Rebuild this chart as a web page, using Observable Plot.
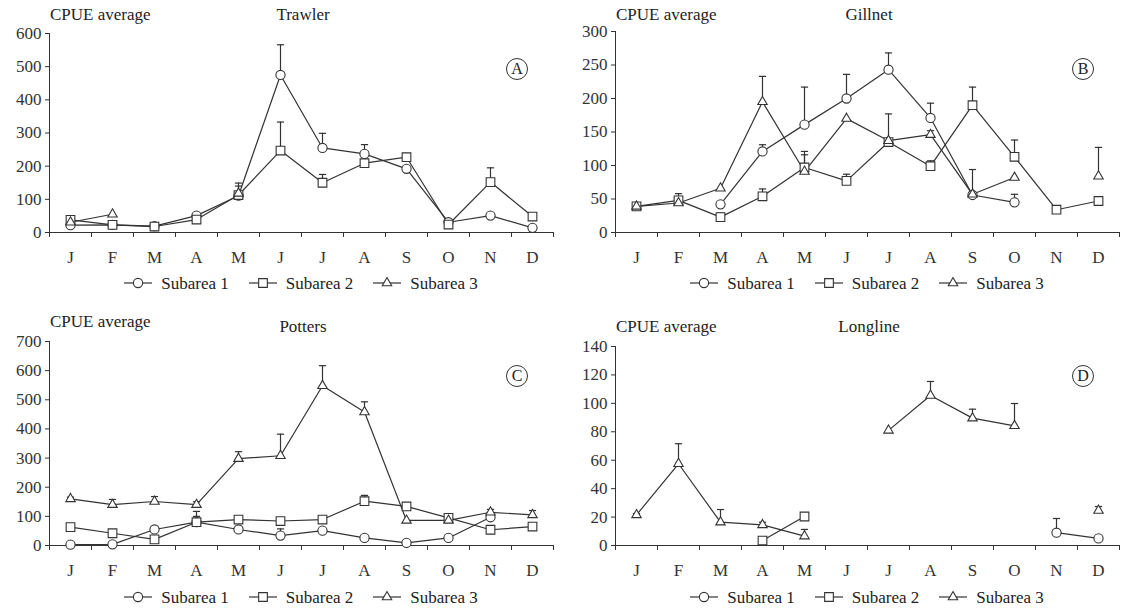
<!DOCTYPE html>
<html><head><meta charset="utf-8">
<script src="https://cdn.jsdelivr.net/npm/d3@7"></script>
<script src="https://cdn.jsdelivr.net/npm/@observablehq/plot@0.6"></script>
<style>
body{margin:0;background:#fff;font-family:"Liberation Serif","Times New Roman",serif;color:#222;}
#wrap{position:relative;width:1126px;height:608px;overflow:hidden;}
.panel{position:absolute;width:563px;height:304px;}
.panel > svg{position:absolute;left:0;top:0;}
.ylab{position:absolute;font-size:17px;white-space:nowrap;line-height:17px;}
.title{position:absolute;font-size:17px;white-space:nowrap;line-height:17px;transform:translateX(-50%);}
.badge{position:absolute;width:20px;height:20px;border:1px solid #333;border-radius:50%;font-size:16px;line-height:20px;text-align:center;transform:translate(-50%,-50%);}
.legend{position:absolute;display:flex;justify-content:center;align-items:center;font-size:17px;line-height:17px;height:18px;}
.item{display:flex;align-items:center;margin:0 10px;white-space:nowrap;}
.item svg{margin-right:9px;}
</style></head><body><div id="wrap"></div>
<script>
// ---------- data ----------
const months = ["J","F","M","A","M","J","J","A","S","O","N","D"];
const seriesNames = ["Subarea 1","Subarea 2","Subarea 3"];
const _ = null;

// Trawler (A)
const trawlerS1 = [22, 23, 19, 51, 111, 475, 255, 237, 192, 31, 51, 14];
const trawlerS2 = [38, 23, 18, 39, 113, 247, 150, 209, 227, 24, 152, 48];
const trawlerS3 = [31, 55, _, _, 118, _, _, _, _, _, _, _];
const trawlerE1 = [_, _, _, _, _, 566, 299, 265, _, _, _, _];
const trawlerE2 = [_, _, _, _, 140, 333, 175, _, _, _, 195, 54];
const trawlerE3 = [_, _, _, _, 149, _, _, _, _, _, _, _];
const trawlerTicks = [0, 100, 200, 300, 400, 500, 600];

// Gillnet (B)
const gillnetS1 = [_, _, 42, 121, 161, 200, 243, 171, 56, 45, _, _];
const gillnetS2 = [39, 48, 23, 54, 97, 77, 135, 99, 190, 113, 34, 47];
const gillnetS3 = [39, 44, 66, 195, 91, 170, 137, 146, 57, 82, _, 84];
const gillnetE1 = [_, _, _, 131, 217, 236, 268, 193, 94, 57, _, _];
const gillnetE2 = [_, 58, 29, 65, 121, 87, 177, 107, 217, 138, _, _];
const gillnetE3 = [_, _, _, 233, 116, _, _, 152, _, _, _, 127];
const gillnetTicks = [0, 50, 100, 150, 200, 250, 300];

// Potters (C)
const pottersS1 = [3, 4, 55, 80, 55, 34, 51, 26, 9, 26, 97, _];
const pottersS2 = [63, 42, 21, 80, 89, 84, 89, 152, 134, 95, 54, 65];
const pottersS3 = [160, 140, 151, 140, 298, 308, 548, 458, 86, 86, 114, 105];
const pottersE1 = [_, _, _, 117, _, 57, _, _, _, _, _, _];
const pottersE2 = [_, _, _, 100, 95, _, 94, 172, _, _, _, _];
const pottersE3 = [166, 158, 168, 150, 322, 382, 617, 493, _, _, 124, 120];
const pottersTicks = [0, 100, 200, 300, 400, 500, 600, 700];

// Longline (D)
const longlineS1 = [_, _, _, _, _, _, _, _, _, _, 9, 5];
const longlineS2 = [_, _, _, 3.5, 20.4, _, _, _, _, _, _, _];
const longlineS3 = [21.5, 57.5, 16.4, 14.5, 6.6, _, 81, 105.5, 89.6, 84.2, _, 24.6];
const longlineE1 = [_, _, _, _, _, _, _, _, _, _, 19, _];
const longlineE2 = [_, _, _, _, _, _, _, _, _, _, _, _];
const longlineE3 = [22.5, 71.6, 25.3, 16.4, 11.3, _, _, 115.4, 95.9, 99.9, _, 27.4];
const longlineTicks = [0, 20, 40, 60, 80, 100, 120, 140];

// ---------- layout ----------
const panels = [
  {name:"Trawler", badge:"A", series:[trawlerS1,trawlerS2,trawlerS3], errs:[trawlerE1,trawlerE2,trawlerE3], ticks:trawlerTicks,
   left:0, top:0, mL:49, mR:10, mT:33, zero:232, labY:15, titY:15, bx:517, by:69, legY:283},
  {name:"Gillnet", badge:"B", series:[gillnetS1,gillnetS2,gillnetS3], errs:[gillnetE1,gillnetE2,gillnetE3], ticks:gillnetTicks,
   left:563, top:0, mL:52, mR:7, mT:31, zero:232, labY:15, titY:15, bx:520, by:69, legY:283},
  {name:"Potters", badge:"C", series:[pottersS1,pottersS2,pottersS3], errs:[pottersE1,pottersE2,pottersE3], ticks:pottersTicks,
   left:0, top:304, mL:49, mR:10, mT:37, zero:241, labY:18, titY:23, bx:517, by:72, legY:293},
  {name:"Longline", badge:"D", series:[longlineS1,longlineS2,longlineS3], errs:[longlineE1,longlineE2,longlineE3], ticks:longlineTicks,
   left:563, top:304, mL:52, mR:7, mT:42, zero:241, labY:23, titY:23, bx:520, by:72, legY:293}
];

const ink = "#333";
const symbols = ["circle","square","triangle"];
const radii = [4.6, 4.9, 3.5];
const d3Symbols = [d3.symbolCircle, d3.symbolSquare, d3.symbolTriangle];
const capSymbol = {draw(ctx){ ctx.moveTo(-3.6,0); ctx.lineTo(3.6,0); }};

function makeRows(series, errs){
  const rows = [];
  series.forEach((vals, si) => vals.forEach((v, i) => rows.push({x: i + 0.5, y: v, err: errs[si][i], s: si})));
  return rows;
}

const wrap = document.getElementById("wrap");
panels.forEach(p => {
  const div = document.createElement("div");
  div.className = "panel";
  div.style.left = p.left + "px";
  div.style.top = p.top + "px";
  wrap.appendChild(div);

  const rows = makeRows(p.series, p.errs);
  const errRows = rows.filter(d => d.err != null && d.y != null);
  const H = p.zero + 36;
  const centers = months.map((m, i) => i + 0.5);

  const svg = Plot.plot({
    width: 563, height: H,
    marginLeft: p.mL, marginRight: p.mR, marginTop: p.mT, marginBottom: H - p.zero,
    style: {fontFamily: '"Liberation Serif","Times New Roman",serif', fontSize: "17px", color: ink, background: "white"},
    x: {domain: [0, 12]},
    y: {domain: [0, p.ticks[p.ticks.length - 1]]},
    marks: [
      Plot.axisY({ticks: p.ticks, tickSize: 4, tickPadding: 4, label: null, fontSize: 17}),
      Plot.axisX({ticks: centers, tickFormat: d => months[Math.floor(d)], tickSize: 0, tickPadding: 18, label: null, fontSize: 17}),
      Plot.axisX({ticks: d3.range(13), tickFormat: () => "", tickSize: 5, label: null}),
      Plot.ruleX([0], {stroke: ink}),
      Plot.ruleY([0], {stroke: ink}),
      Plot.line(rows, {x: "x", y: "y", z: "s", stroke: ink, strokeWidth: 1.2}),
      Plot.ruleX(errRows, {x: "x", y1: "y", y2: "err", stroke: ink, strokeWidth: 1.2}),
      Plot.dot(errRows, {x: "x", y: "err", symbol: capSymbol, r: 3, stroke: ink, fill: "none", strokeWidth: 1.2}),
      ...[0, 1, 2].map(si => Plot.dot(rows.filter(d => d.s === si && d.y != null),
        {x: "x", y: "y", symbol: symbols[si], r: radii[si], fill: "white", stroke: ink, strokeWidth: 1.1}))
    ]
  });
  div.appendChild(svg);

  const plotW = 563 - p.mL - p.mR;
  const lab = document.createElement("div");
  lab.className = "ylab";
  lab.textContent = "CPUE average";
  lab.style.left = (p.mL + 1) + "px";
  lab.style.top = (p.labY - 9) + "px";
  div.appendChild(lab);

  const tit = document.createElement("div");
  tit.className = "title";
  tit.textContent = p.name;
  tit.style.left = (p.mL + plotW / 2 + 2) + "px";
  tit.style.top = (p.titY - 9) + "px";
  div.appendChild(tit);

  const b = document.createElement("div");
  b.className = "badge";
  b.textContent = p.badge;
  b.style.left = p.bx + "px";
  b.style.top = p.by + "px";
  div.appendChild(b);

  const leg = document.createElement("div");
  leg.className = "legend";
  leg.style.left = p.mL + "px";
  leg.style.width = plotW + "px";
  leg.style.top = (p.legY - 9) + "px";
  seriesNames.forEach((name, si) => {
    const item = document.createElement("div");
    item.className = "item";
    const s = d3.create("svg").attr("width", 28).attr("height", 14);
    s.append("line").attr("x1", 0).attr("x2", 28).attr("y1", 7).attr("y2", 7).attr("stroke", ink).attr("stroke-width", 1.2);
    s.append("path").attr("transform", "translate(14,7)")
      .attr("d", d3.symbol().type(d3Symbols[si]).size(Math.PI * radii[si] * radii[si])())
      .attr("fill", "white").attr("stroke", ink).attr("stroke-width", 1.1);
    item.appendChild(s.node());
    const t = document.createElement("span");
    t.textContent = name;
    item.appendChild(t);
    leg.appendChild(item);
  });
  div.appendChild(leg);
});
</script></body></html>
